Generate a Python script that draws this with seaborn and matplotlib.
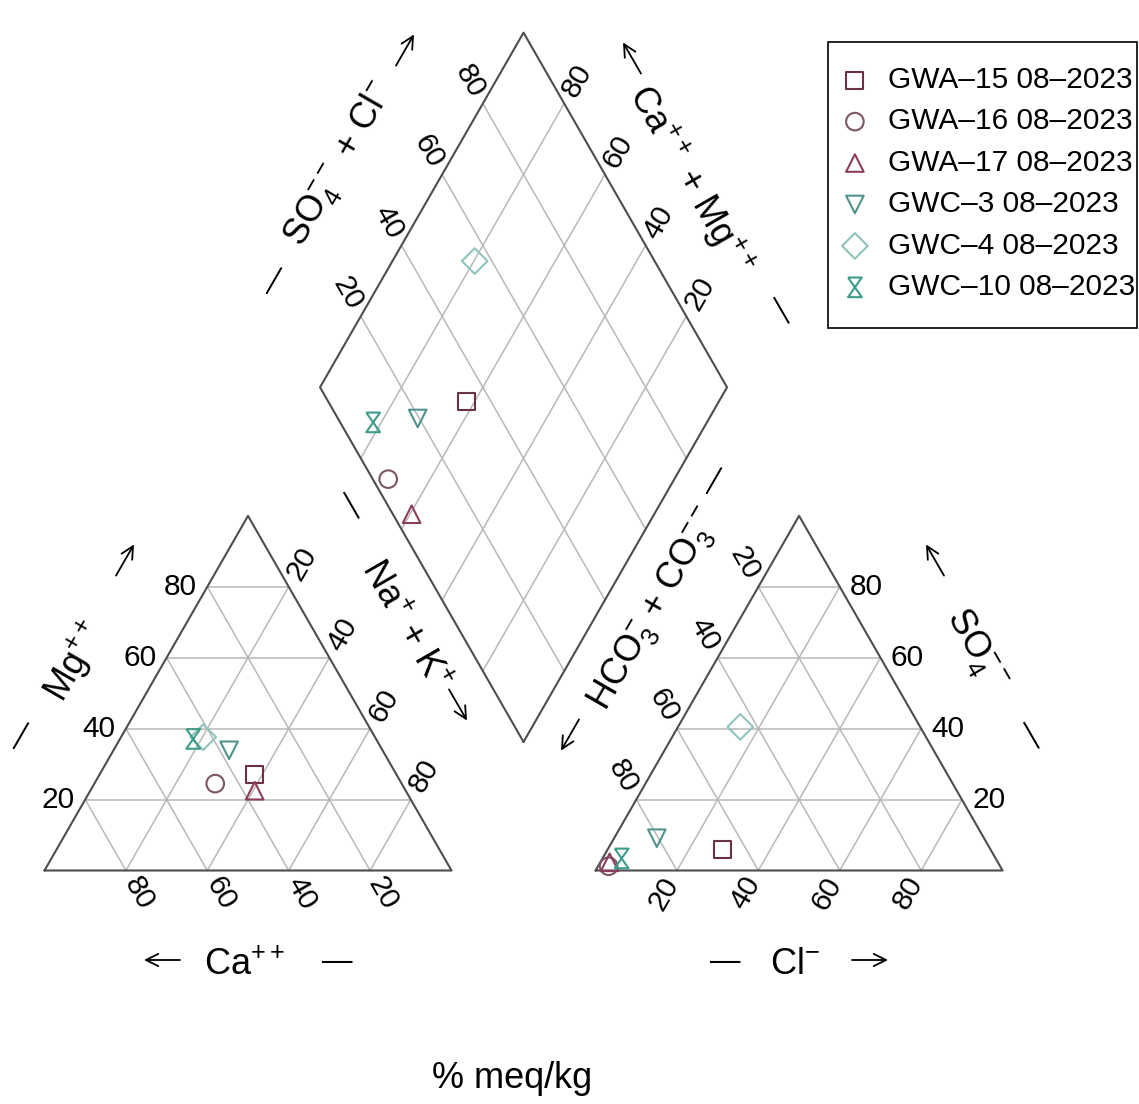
import numpy as np
import pandas as pd
import matplotlib
matplotlib.use("Agg")
import matplotlib.pyplot as plt
from matplotlib.patches import Rectangle
import seaborn as sns

# sample data, percent meq/kg
samples = ['GWA–15 08–2023', 'GWA–16 08–2023', 'GWA–17 08–2023',
           'GWC–3 08–2023', 'GWC–4 08–2023', 'GWC–10 08–2023']
ca = [34.9, 45.8, 37.1, 37.7, 42.2, 44.9]
mg = [27.1, 24.5, 22.5, 33.9, 37.6, 37.1]
na_k = [38.0, 29.7, 40.4, 28.4, 20.2, 18.0]
cl = [28.1, 2.6, 2.3, 10.5, 15.3, 4.7]
so4 = [6.0, 1.2, 2.3, 9.1, 40.5, 3.4]
hco3 = [65.9, 96.2, 95.4, 80.4, 44.2, 91.9]
ticks = [20, 40, 60, 80]

colors = ['#6b3048', '#7d5566', '#8a3d5c', '#4f948c', '#8fc4bd', '#3e9c8a']
hourglass = [(-0.7, 1), (0.7, 1), (-0.7, -1), (0.7, -1), (-0.7, 1)]
markers = ['s', 'o', '^', 'v', 'D', hourglass]
sizes = [150, 160, 160, 160, 170, 200]

sns.set_theme(style="white")
plt.rcParams['font.family'] = ['Liberation Sans', 'DejaVu Sans']
plt.rcParams['text.color'] = 'black'
plt.rcParams['mathtext.fontset'] = 'custom'
plt.rcParams['mathtext.rm'] = 'Liberation Sans'
plt.rcParams['mathtext.it'] = 'Liberation Sans'

H = np.sqrt(3) / 2
OFF = 135.4          # x offset of anion triangle
BX, BY = 117.7, 31.4  # bottom vertex of diamond
SX, SY = 4.07, 4.095  # px per unit

def cat_xy(n, m):
    return n + m / 2, m * H

def an_xy(c, s):
    return OFF + c + s / 2, s * H

def dia_xy(camg, sc):
    return BX + (sc - camg) / 2, BY + (sc + camg) * H

def px(x, y):
    # pixel position in the picture -> data units
    return (x - 44.5) / SX, (870.5 - y) / SY

df = pd.DataFrame({'sample': samples, 'ca': ca, 'mg': mg, 'na_k': na_k,
                   'cl': cl, 'so4': so4, 'hco3': hco3})
df['cx'], df['cy'] = cat_xy(df['na_k'], df['mg'])
df['ax_'], df['ay'] = an_xy(df['cl'], df['so4'])
df['dx'], df['dy'] = dia_xy(100 - df['na_k'], df['so4'] + df['cl'])

fig = plt.figure(figsize=(11.39, 11.04), dpi=100)
ax = fig.add_axes([0, 0, 1, 1])
ax.set_xlim(-44.5 / SX, (1139 - 44.5) / SX)
ax.set_ylim(-(1104 - 870.5) / SY, 870.5 / SY)
ax.axis('off')

grid_kw = dict(color='#b8b8b8', lw=1.1, zorder=1)
edge_kw = dict(color='#4d4d4d', lw=1.5, zorder=2)

# triangles
for f in (cat_xy, an_xy):
    for k in ticks:
        ax.plot(*zip(f(0, k), f(100 - k, k)), **grid_kw)
        ax.plot(*zip(f(k, 0), f(k, 100 - k)), **grid_kw)
        ax.plot(*zip(f(100 - k, 0), f(0, 100 - k)), **grid_kw)
    ax.plot(*zip(f(0, 0), f(100, 0), f(0, 100), f(0, 0)), **edge_kw)

# diamond
for k in ticks:
    ax.plot(*zip(dia_xy(k, 0), dia_xy(k, 100)), **grid_kw)
    ax.plot(*zip(dia_xy(0, k), dia_xy(100, k)), **grid_kw)
ax.plot(*zip(dia_xy(0, 0), dia_xy(100, 0), dia_xy(100, 100),
             dia_xy(0, 100), dia_xy(0, 0)), **edge_kw)

# tick labels
tfs = 21.5
def lab(p, d, dist, rot, k):
    x, y = p
    ax.text(x + d[0] * dist, y + d[1] * dist, str(k), rotation=rot,
            rotation_mode='anchor', ha='center', va='center', fontsize=tfs)

for k in ticks:
    lab(cat_xy(0, k), (-1, 0), 6.6, 0, k)                 # Mg
    lab(cat_xy(k, 100 - k), (0.5, H), 6.6, 60, k)         # Na + K
    lab(cat_xy(100 - k, 0), (0.5, -H), 6.4, -60, k)       # Ca
    lab(an_xy(100 - k, k), (1, 0), 6.6, 0, k)             # SO4
    lab(an_xy(0, 100 - k), (-0.5, H), 6.6, -60, k)        # HCO3
    lab(an_xy(k, 0), (-0.5, -H), 6.4, 60, k)              # Cl
    lab(dia_xy(100, k), (-0.5, H), 6.4, -60, k)           # SO4 + Cl
    lab(dia_xy(k, 100), (0.5, H), 6.4, 60, k)             # Ca + Mg

# axis titles
afs = 26
def title(p, s, rot, size=afs):
    x, y = px(*p)
    ax.text(x, y, s, rotation=rot, rotation_mode='anchor',
            ha='center', va='center', fontsize=size)

def arrow(p, ang, length=36):
    a = np.radians(ang)
    dx, dy = np.cos(a) * length / 2, np.sin(a) * length / 2
    x0, y0 = px(p[0] - dx, p[1] + dy)
    x1, y1 = px(p[0] + dx, p[1] - dy)
    ax.annotate('', xy=(x1, y1), xytext=(x0, y0),
                arrowprops=dict(arrowstyle='->', lw=1.3, color='black',
                                mutation_scale=22, shrinkA=0, shrinkB=0))

title((75, 662), r'Mg$\mathregular{^{++}}$', 60)
title((22, 735), '—', 60, 22)
arrow((125, 560), 60)
title((405, 625), r'Na$\mathregular{^{+}}$ + K$\mathregular{^{+}}$', -60)
title((350, 505), '—', -60, 22)
arrow((458, 705), -60)
title((245, 965), r'Ca$\mathregular{^{++}}$', 0)
arrow((162, 960), 180)
title((337, 962), '—', 0, 22)

title((795, 965), r'Cl$\mathregular{^{-}}$', 0)
title((725, 962), '—', 0, 22)
arrow((870, 960), 0)
title((975, 650), r'SO$\mathregular{_4^{--}}$', -60)
arrow((935, 560), 120)
title((1030, 735), '—', -60, 22)
title((655, 610), r'HCO$\mathregular{_3^{-}}$ + CO$\mathregular{_3^{--}}$', 60)
title((715, 480), '—', 60, 22)
arrow((570, 735), 240)

title((340, 165), r'SO$\mathregular{_4^{--}}$ + Cl$\mathregular{^{-}}$', 60)
title((275, 280), '—', 60, 22)
arrow((405, 50), 60)
title((690, 180), r'Ca$\mathregular{^{++}}$ + Mg$\mathregular{^{++}}$', -60)
arrow((632, 58), 120)
title((780, 310), '—', -60, 22)

title((512, 1078), '% meq/kg', 0)

# points
for i, row in df.iterrows():
    for xc, yc in (('cx', 'cy'), ('ax_', 'ay'), ('dx', 'dy')):
        sns.scatterplot(x=[row[xc]], y=[row[yc]], ax=ax, marker=markers[i],
                        s=sizes[i], color=colors[i],
                        facecolor='none', edgecolor=colors[i], linewidth=1.5,
                        zorder=5, legend=False)

handles = [ax.collections[i * 3] for i in range(len(samples))]
fig.patches.append(Rectangle((828 / 1139, 1 - 328 / 1104), 309 / 1139, 286 / 1104,
                             transform=fig.transFigure, fill=False,
                             edgecolor='black', lw=1.2))
leg = ax.legend(handles, samples, loc='upper left',
                bbox_to_anchor=(834 / 1139, 1 - 66 / 1104),
                bbox_transform=fig.transFigure, borderaxespad=0,
                fontsize=tfs, frameon=False, labelspacing=0.45,
                handletextpad=0.4, handlelength=1.4, borderpad=0)

fig.savefig('out.png', dpi=100, facecolor='white')
